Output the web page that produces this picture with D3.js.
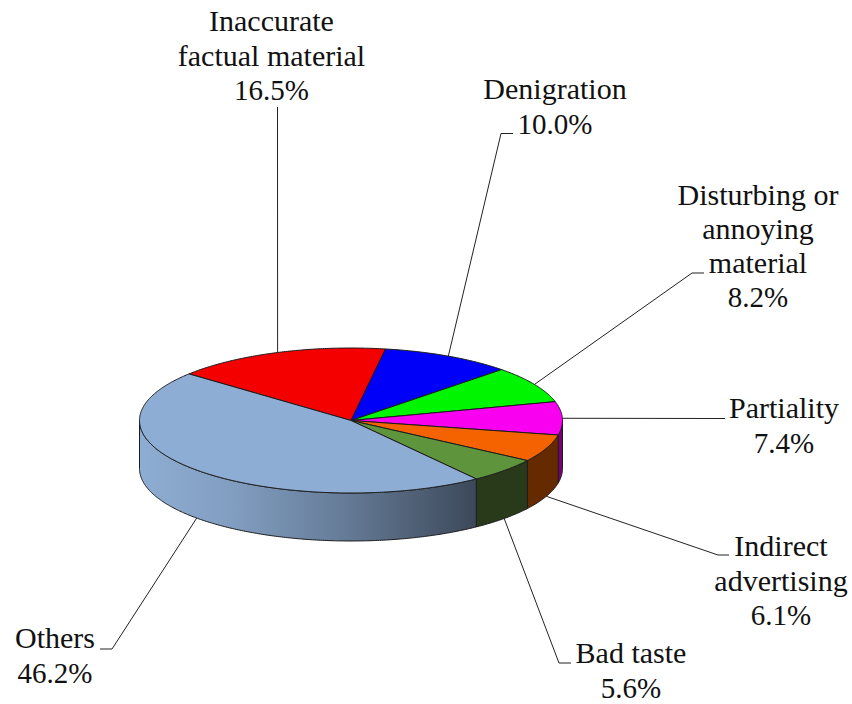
<!DOCTYPE html>
<html>
<head>
	<meta charset="utf-8">
	<title>Complaints pie</title>
	<script src="https://d3js.org/d3.v7.min.js"></script>
	<style>
		html, body { margin: 0; padding: 0; background: #fff; }
		svg { display: block; }
		.label { font-family: "Liberation Serif", serif; font-size: 30px; fill: #111; text-anchor: middle; }
		.label .pct { font-size: 29px; }
		.leader { fill: none; stroke: #222; stroke-width: 1px; }
		.top, .side { stroke: #1c1c1c; stroke-width: 1px; stroke-linejoin: round; }
	</style>
</head>
<body>
<svg id="chart" width="852" height="704"></svg>
<script>
var categories = ['Inaccurate factual material', 'Denigration', 'Disturbing or annoying material', 'Partiality', 'Indirect advertising', 'Bad taste', 'Others'];
var values = [16.5, 10.0, 8.2, 7.4, 6.1, 5.6, 46.2];
var topColors = ['#f50000', '#0000fa', '#00f500', '#fa00f0', '#f56200', '#5e943c', '#8eadd4'];
var sideColors = ['#7a0000', '#00007a', '#007a00', '#7a0078', '#662a00', '#283a1a', 'url(#othersSide)'];
var labelLines = [
	['Inaccurate', 'factual material', '16.5%'],
	['Denigration', '10.0%'],
	['Disturbing or', 'annoying', 'material', '8.2%'],
	['Partiality', '7.4%'],
	['Indirect', 'advertising', '6.1%'],
	['Bad taste', '5.6%'],
	['Others', '46.2%']
];

// label layout: x centre, first baseline, line step
var labelPos = [
	{x: 271.5, y: 31, dy: 34.5},
	{x: 555, y: 99, dy: 35},
	{x: 758, y: 205, dy: 34},
	{x: 784, y: 418, dy: 35},
	{x: 781, y: 556, dy: 34.5},
	{x: 631, y: 663, dy: 34.5},
	{x: 55, y: 648, dy: 35}
];
// elbows of the leader lines, from the pie outwards
var leaderEnds = [
	[[277.5, 107]],
	[[501, 133.5], [513, 133.5]],
	[[692, 273], [704, 273]],
	[[725, 418.5]],
	[[718, 555], [729, 555]],
	[[559, 663], [571, 663]],
	[[112, 649], [100, 649]]
];

var _cx = 351, _cy = 420.5, _rx = 211.5, _ry = 72.5, _depth = 48,
	_start = -50 * Math.PI / 180;

var _x = d3.scaleLinear([-1, 1], [_cx - _rx, _cx + _rx]),
	_y = d3.scaleLinear([-1, 1], [_cy - _ry, _cy + _ry]);

var _svg = d3.select('#chart');

var _grad = _svg.append('defs').append('linearGradient')
	.attr('id', 'othersSide')
	.attr('gradientUnits', 'userSpaceOnUse')
	.attr('x1', _x(-1)).attr('x2', 477).attr('y1', 0).attr('y2', 0);
_grad.append('stop').attr('offset', '0').attr('stop-color', '#8eadd2');
_grad.append('stop').attr('offset', '0.25').attr('stop-color', '#83a0c3');
_grad.append('stop').attr('offset', '0.6').attr('stop-color', '#667c98');
_grad.append('stop').attr('offset', '1').attr('stop-color', '#3c4859');

var _slices = d3.pie().sort(null).startAngle(_start).endAngle(_start + 2 * Math.PI)(values);

var _line = d3.line();

// point on the rim, angle clockwise from the top
function rim(a, down) {
	return [_x(Math.sin(a)), _y(-Math.cos(a)) + (down || 0)];
}
function arcPoints(a0, a1, down) {
	var n = Math.max(2, Math.ceil(Math.abs(a1 - a0) / 0.01));
	return d3.range(n + 1).map(function (i) {
		return rim(a0 + (a1 - a0) * i / n, down);
	});
}

// side walls, only the front half shows
var _sides = _svg.append('g');
_slices.forEach(function (d, i) {
	var a0 = Math.max(d.startAngle, Math.PI / 2),
		a1 = Math.min(d.endAngle, 3 * Math.PI / 2);
	if (a1 <= a0) return;
	var pts = arcPoints(a0, a1, 0).concat(arcPoints(a1, a0, _depth));
	_sides.append('path')
		.attr('class', 'side')
		.attr('d', _line(pts) + 'Z')
		.attr('fill', sideColors[i]);
});

// top faces
var _tops = _svg.append('g');
_slices.forEach(function (d, i) {
	var pts = [[_x(0), _y(0)]].concat(arcPoints(d.startAngle, d.endAngle, 0));
	_tops.append('path')
		.attr('class', 'top')
		.attr('d', _line(pts) + 'Z')
		.attr('fill', topColors[i]);
});

// leader lines start at the middle of each slice
_slices.forEach(function (d, i) {
	var mid = (d.startAngle + d.endAngle) / 2,
		front = Math.cos(mid) < -0.2,
		pts = [rim(mid, front ? _depth : 0)].concat(leaderEnds[i]);
	_svg.append('path')
		.attr('class', 'leader')
		.attr('d', _line(pts));
});

// labels
labelLines.forEach(function (lines, i) {
	var t = _svg.append('text').attr('class', 'label');
	lines.forEach(function (s, j) {
		t.append('tspan')
			.attr('class', j == lines.length - 1 ? 'pct' : null)
			.attr('x', labelPos[i].x)
			.attr('y', labelPos[i].y + j * labelPos[i].dy)
			.text(s);
	});
});
</script>
</body>
</html>
